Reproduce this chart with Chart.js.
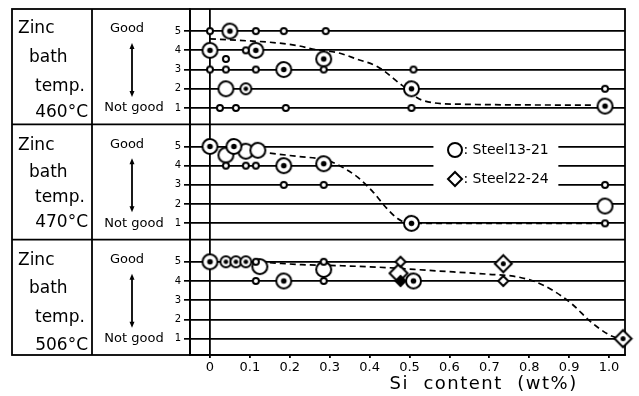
<!DOCTYPE html>
<html>
<head>
<meta charset="utf-8">
<script src="https://cdn.jsdelivr.net/npm/chart.js@4"></script>
<style>
  html, body { margin: 0; padding: 0; background: #fff; }
  #wrap { width: 639px; height: 396px; }
</style>
</head>
<body>
<div id="wrap"><canvas id="chart"></canvas></div>
<script>
// axes
const siTicks = [0, 0.1, 0.2, 0.3, 0.4, 0.5, 0.6, 0.7, 0.8, 0.9, 1.0];
const ratingTicks = [1, 2, 3, 4, 5];
const bathTemps = ["460°C", "470°C", "506°C"];
const legendLabels = ["Steel13-21", "Steel22-24"];

// 460°C   [Si wt%, rating]
const ring460 = [[0, 5], [0.115, 5], [0.185, 5], [0.29, 5], [0.09, 4], [0.04, 3.55], [0, 3], [0.04, 3], [0.115, 3], [0.285, 3], [0.51, 3], [0.99, 2], [0.025, 1], [0.065, 1], [0.19, 1], [0.505, 1]];
const dot460 = [[0.05, 5], [0, 4], [0.115, 4], [0.285, 3.55], [0.185, 3], [0.505, 2], [0.99, 1.1]];
const midDot460 = [[0.09, 2]];
const open460 = [[0.04, 2]];
const edge460 = [[0, 4.6], [0.07, 4.52], [0.15, 4.42], [0.215, 4.26], [0.27, 4.02], [0.32, 3.88], [0.37, 3.53], [0.42, 3.15], [0.48, 2.2], [0.53, 1.42], [0.62, 1.2], [0.96, 1.15]];

// 470°C
const ring470 = [[0.04, 4], [0.09, 4], [0.115, 4], [0.185, 3], [0.285, 3], [0.99, 3], [0.99, 1]];
const dot470 = [[0, 5], [0.06, 5], [0.185, 4], [0.285, 4.1], [0.505, 1]];
const midDot470 = [];
const open470 = [[0.04, 4.55], [0.09, 4.75], [0.12, 4.8], [0.99, 1.9]];
const edge470 = [[0.15, 4.65], [0.22, 4.48], [0.29, 4.3], [0.32, 4.05], [0.37, 3.4], [0.41, 2.6], [0.44, 1.85], [0.47, 1.25], [0.5, 1.0], [0.99, 1.0]];

// 506°C
const ring506 = [[0.115, 5], [0.285, 5], [0.115, 4], [0.285, 4]];
const dot506 = [[0, 5], [0.185, 4], [0.51, 4]];
const midDot506 = [[0.04, 5], [0.065, 5], [0.09, 5]];
const open506 = [[0.125, 4.75], [0.285, 4.6]];
const smallDiamond506 = [[0.4775, 5], [0.735, 4]];
const blackDiamond506 = [[0.4775, 4]];
const openDiamond506 = [[0.4725, 4.4]];
const dotDiamond506 = [[0.735, 4.9], [1.035, 1]];
const edge506 = [[0.15, 4.95], [0.23, 4.85], [0.32, 4.8], [0.44, 4.7], [0.55, 4.55], [0.7, 4.35], [0.76, 4.25], [0.81, 4.0], [0.86, 3.5], [0.91, 2.75], [0.95, 1.95], [1.0, 1.2], [1.025, 1.0]];

const INK = "#000";
const FONT = '"DejaVu Sans", sans-serif';

function makeMarker(shape, r, centre, fill) {
  const lw = 2;
  const c = document.createElement("canvas");
  const s = Math.ceil(2 * r + lw + 2);
  c.width = c.height = s;
  const g = c.getContext("2d");
  const m = s / 2;
  g.lineWidth = lw;
  g.strokeStyle = INK;
  g.fillStyle = fill || "#fff";
  g.beginPath();
  if (shape === "circle") {
    g.arc(m, m, r, 0, Math.PI * 2);
  } else {
    g.moveTo(m, m - r); g.lineTo(m + r, m); g.lineTo(m, m + r); g.lineTo(m - r, m); g.closePath();
  }
  g.fill();
  g.stroke();
  if (centre) {
    g.fillStyle = INK;
    g.beginPath();
    g.arc(m, m, centre, 0, Math.PI * 2);
    g.fill();
  }
  return c;
}

const mk = {
  ring: makeMarker("circle", 3),
  dot: makeMarker("circle", 7.5, 2.8),
  midDot: makeMarker("circle", 5.5, 2.3),
  open: makeMarker("circle", 7.5),
  smallDiamond: makeMarker("diamond", 5),
  blackDiamond: makeMarker("diamond", 5, 0, INK),
  openDiamond: makeMarker("diamond", 9),
  dotDiamond: makeMarker("diamond", 8.5, 2.5),
  legendCircle: makeMarker("circle", 7),
  legendDiamond: makeMarker("diamond", 7)
};

const pts = arr => arr.map(([x, y]) => ({ x, y }));

function marks(data, style, yAxisID, order) {
  return { data: pts(data), yAxisID, pointStyle: style, pointRadius: 5, order, clip: false };
}
function edge(data, yAxisID) {
  return {
    data: pts(data), yAxisID, showLine: true, pointRadius: 0,
    borderColor: INK, borderWidth: 1.7, borderDash: [6, 4],
    cubicInterpolationMode: "monotone", order: 10, clip: false
  };
}

const datasets = [
  edge(edge460, "y460"), edge(edge470, "y470"), edge(edge506, "y506"),
  marks(open460, mk.open, "y460", 4), marks(open470, mk.open, "y470", 4), marks(open506, mk.open, "y506", 4),
  marks(dot460, mk.dot, "y460", 3), marks(dot470, mk.dot, "y470", 3), marks(dot506, mk.dot, "y506", 3),
  marks(midDot460, mk.midDot, "y460", 2), marks(midDot470, mk.midDot, "y470", 2), marks(midDot506, mk.midDot, "y506", 2),
  marks(ring460, mk.ring, "y460", 1), marks(ring470, mk.ring, "y470", 1), marks(ring506, mk.ring, "y506", 1),
  marks(openDiamond506, mk.openDiamond, "y506", 4),
  marks(dotDiamond506, mk.dotDiamond, "y506", 3),
  marks(smallDiamond506, mk.smallDiamond, "y506", 1),
  marks(blackDiamond506, mk.blackDiamond, "y506", 1)
];

function ratingAxis(weight) {
  return {
    type: "linear", position: "left", stack: "rating", stackWeight: 1, weight,
    min: 0.15, max: 6.15,
    afterBuildTicks: s => { s.ticks = ratingTicks.map(v => ({ value: v })); },
    afterFit: s => { s.width = 40; },
    border: { color: INK, width: 1.8 },
    grid: { color: INK, lineWidth: 1.7, tickLength: 6, tickColor: INK },
    ticks: { color: INK, font: { family: FONT, size: 10 }, padding: 3 }
  };
}

// table on the left, frame, legend and axis title
const ids = ["y460", "y470", "y506"];
const textRows = [[20, 49, 78, 104], [21, 48, 73, 98], [21, 49, 78, 106]];
const tablePlugin = {
  id: "table",
  beforeDatasetsDraw(chart) {
    const ctx = chart.ctx, a = chart.chartArea;
    const L = 12, C1 = 92;
    const ln = (x1, y1, x2, y2) => { ctx.beginPath(); ctx.moveTo(x1, y1); ctx.lineTo(x2, y2); ctx.stroke(); };
    ctx.save();
    ctx.strokeStyle = INK;
    ctx.fillStyle = INK;
    ctx.lineWidth = 1.8;
    ctx.strokeRect(L, a.top, a.right - L, a.bottom - a.top);
    ln(C1, a.top, C1, a.bottom);
    ln(a.left, a.top, a.left, a.bottom);
    ids.forEach((id, i) => {
      const s = chart.scales[id];
      const t = s.top, r = textRows[i];
      ctx.lineWidth = 1.8;
      if (i > 0) ln(L, t, a.right, t);
      ctx.textBaseline = "middle";
      ctx.font = "17px " + FONT;
      ctx.textAlign = "left";
      ctx.fillText("Zinc", 18, t + r[0]);
      ctx.fillText("bath", 29, t + r[1]);
      ctx.fillText("temp.", 35, t + r[2]);
      ctx.textAlign = "right";
      ctx.fillText(bathTemps[i], 88, t + r[3]);
      ctx.textAlign = "center";
      ctx.font = "13px " + FONT;
      ctx.fillText("Good", 127, t + 20);
      ctx.fillText("Not good", 134, t + 99);
      // double arrow
      ctx.lineWidth = 1.8;
      ln(132, t + 37, 132, t + 85);
      ctx.beginPath();
      ctx.moveTo(132, t + 34); ctx.lineTo(134.5, t + 40); ctx.lineTo(129.5, t + 40); ctx.closePath(); ctx.fill();
      ctx.beginPath();
      ctx.moveTo(132, t + 88); ctx.lineTo(134.5, t + 82); ctx.lineTo(129.5, t + 82); ctx.closePath(); ctx.fill();
    });

    // legend inside the 470°C panel
    const x = chart.scales.x, y = chart.scales.y470;
    const bx = x.getPixelForValue(0.56), bw = x.getPixelForValue(0.873) - bx;
    const by = y.getPixelForValue(5.3), bh = y.getPixelForValue(2.8) - by;
    ctx.fillStyle = "#fff";
    ctx.fillRect(bx, by, bw, bh);
    ctx.fillStyle = INK;
    const mx = x.getPixelForValue(0.615);
    [[mk.legendCircle, 4.8], [mk.legendDiamond, 3.3]].forEach(([img, v], k) => {
      const py = y.getPixelForValue(v);
      ctx.drawImage(img, Math.round(mx - img.width / 2), Math.round(py - img.height / 2));
      ctx.font = "14px " + FONT;
      ctx.textAlign = "left";
      ctx.textBaseline = "middle";
      ctx.fillText(": " + legendLabels[k], mx + 8, py);
    });

    // x axis title
    ctx.font = "18px " + FONT;
    ctx.letterSpacing = "1.5px";
    ctx.textAlign = "left";
    ctx.textBaseline = "alphabetic";
    ctx.fillText("Si  content  (wt%)", x.getPixelForValue(0.45), 389);
    ctx.restore();
  }
};

new Chart(document.getElementById("chart"), {
  type: "scatter",
  data: { datasets },
  options: {
    responsive: true,
    maintainAspectRatio: false,
    animation: false,
    events: [],
    layout: { padding: { top: 8, right: 14, bottom: 0, left: 150 } },
    plugins: { legend: { display: false }, tooltip: { enabled: false } },
    scales: {
      x: {
        type: "linear", position: "bottom", min: -0.05, max: 1.04,
        afterBuildTicks: s => { s.ticks = siTicks.map(v => ({ value: v })); },
        afterFit: s => { s.height = 41; },
        border: { color: INK, width: 1.8 },
        grid: {
          color: c => (c.tick && c.tick.value === 0 ? INK : "rgba(0,0,0,0)"),
          lineWidth: 1.8, tickLength: 3, tickColor: INK
        },
        ticks: {
          color: INK, font: { family: FONT, size: 13 }, padding: 2, maxRotation: 0,
          callback: v => (v === 0 ? "0" : v.toFixed(1))
        }
      },
      y460: ratingAxis(3),
      y470: ratingAxis(2),
      y506: ratingAxis(1)
    }
  },
  plugins: [tablePlugin]
});
</script>
</body>
</html>
